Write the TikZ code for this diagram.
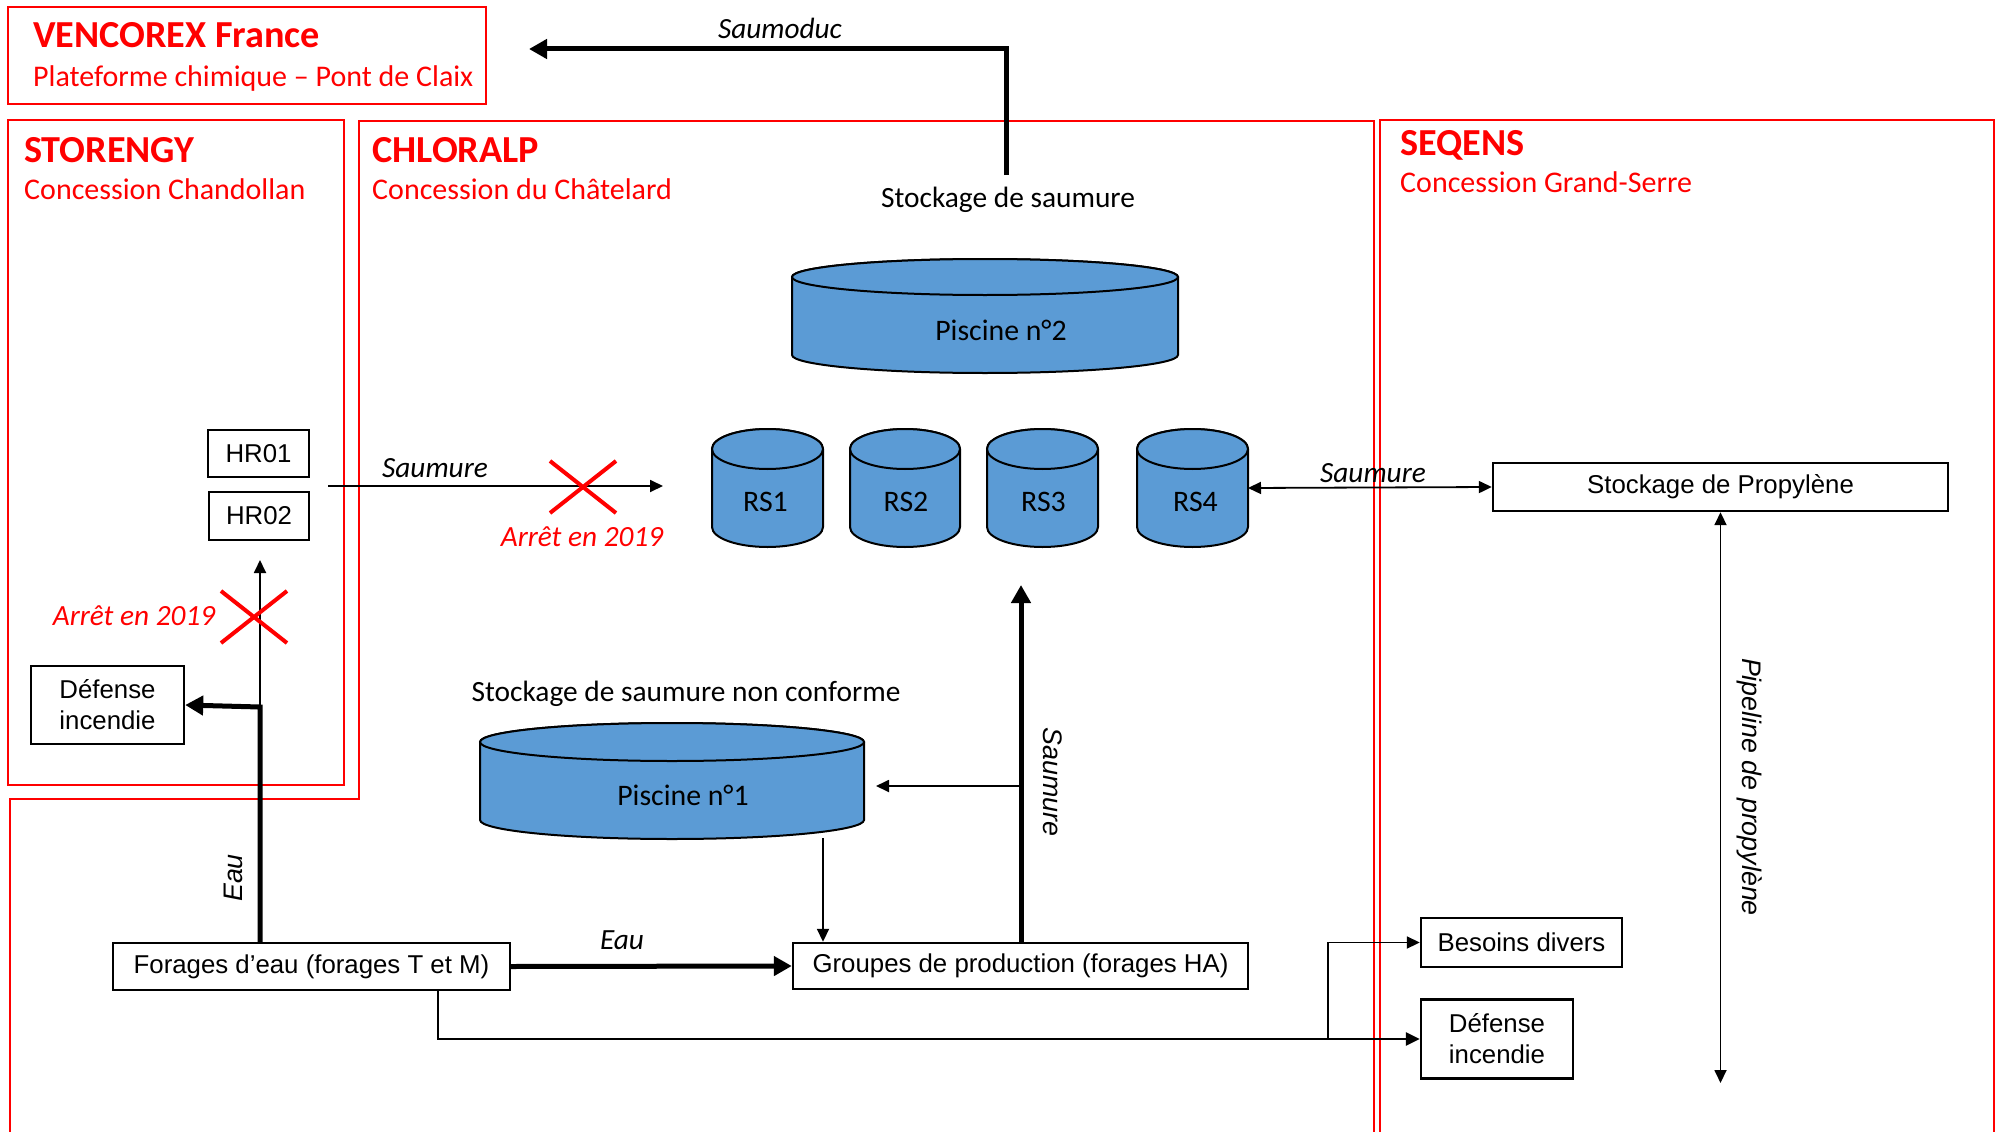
\documentclass[tikz,border=0pt]{standalone}
\usepackage{fontspec}
\setmainfont{Carlito}
\newfontfamily\arialfont{Liberation Sans}
\usetikzlibrary{arrows.meta,shapes.misc}
\definecolor{tankblue}{HTML}{5B9BD5}

\newcommand{\tank}[8]{%
	\filldraw[tank] (#2-#5,#3) -- (#2-#5,#4) arc[start angle=180,end angle=360,x radius=#5pt,y radius=#6pt] -- (#2+#5,#3) arc[start angle=0,end angle=180,x radius=#5pt,y radius=#6pt] -- cycle;
	\filldraw[tank] (#2,#3) ellipse[x radius=#5pt,y radius=#6pt];
	\node[tanklbl] (#1) at (#2+#8,{(#3+#4)/2+14}) {#7};
	\coordinate (#1-e) at (#2+#5,{(#3+#4)/2});
	\coordinate (#1-s) at (#2,#4+#6);
}

\begin{document}
\begin{tikzpicture}[x=1pt,y=-1pt,
		zone/.style={draw=red,line width=2pt},
		box/.style={draw,line width=2.4pt,align=center,inner sep=0pt,font=\arialfont\fontsize{25.8}{31}\selectfont},
		tank/.style={fill=tankblue,draw=black,line width=2pt},
		tanklbl/.style={inner sep=0pt,font=\fontsize{29.8}{34}\selectfont},
		title/.style={anchor=base west,text=red,inner sep=0pt,font=\bfseries\fontsize{38.2}{42}\selectfont},
		subtitle/.style={anchor=base west,text=red,inner sep=0pt,font=\fontsize{30}{34}\selectfont},
		note/.style={inner sep=0pt,font=\fontsize{29.4}{34}\selectfont},
		lbl/.style={inner sep=0pt,font=\itshape\fontsize{29.3}{34}\selectfont},
		redlbl/.style={lbl,text=red},
		vlbl/.style={inner sep=0pt,font=\arialfont\itshape\fontsize{26.8}{31}\selectfont},
		flow/.style={line width=1.8pt,-{Triangle[length=13pt,width=12pt]}},
		flowboth/.style={line width=1.8pt,{Triangle[length=13pt,width=12pt]}-{Triangle[length=13pt,width=12pt]}},
		bigflow/.style={line width=5pt,-{Triangle[length=18pt,width=19pt]}},
		stopped/.style={cross out,draw=red,line width=4pt,minimum width=62pt,minimum height=48pt,inner sep=0pt}]
	\useasboundingbox (0,0) rectangle (1998,1132);
	
	\draw[zone] (8,7) rectangle (486,104);
	\draw[zone] (8,120) rectangle (344,785);
	\draw[zone] (10,1132) -- (10,799) -- (359,799) -- (359,121) -- (1374,121) -- (1374,1132);
	\draw[zone] (1380,1132) -- (1380,120) -- (1994,120) -- (1994,1132);
	
	\node[title] (vencorex) at (33,48) {VENCOREX France};
	\node[subtitle] (vencorexSub) at (33,86) {Plateforme chimique – Pont de Claix};
	\node[title] (storengy) at (24,162) {STORENGY};
	\node[subtitle] (storengySub) at (24,199) {Concession Chandollan};
	\node[title] (chloralp) at (372,162) {CHLORALP};
	\node[subtitle] (chloralpSub) at (372,199) {Concession du Châtelard};
	\node[title] (seqens) at (1400,155) {SEQENS};
	\node[subtitle] (seqensSub) at (1400,192) {Concession Grand-Serre};
	
	\tank{piscineB}{985}{277}{355}{193}{18}{Piscine n°2}{16}
	\tank{rsA}{767.5}{449}{527}{55.5}{20}{RS1}{-2}
	\tank{rsB}{905}{449}{527}{55}{20}{RS2}{1}
	\tank{rsC}{1042.5}{449}{527}{55.5}{20}{RS3}{1}
	\tank{rsD}{1192.5}{449}{527}{55.5}{20}{RS4}{3}
	\tank{piscineA}{672}{742}{820}{192}{19}{Piscine n°1}{11}
	\node[note] (stockSaumure) at (1008,200) {Stockage de saumure};
	\node[note] (stockNonConf) at (686,694) {Stockage de saumure non conforme};
	
	\node[box,minimum width=101pt,minimum height=47pt] (hrA) at (258.5,453.5) {HR01};
	\node[box,minimum width=100pt,minimum height=48pt] (hrB) at (259,516) {HR02};
	\node[box,minimum width=153pt,minimum height=78pt] (defenseA) at (107.5,705) {Défense\\incendie};
	\node[box,minimum width=397pt,minimum height=47pt] (forages) at (311.5,966.5) {Forages d’eau (forages T et M)};
	\node[box,minimum width=455pt,minimum height=46pt] (groupes) at (1020.5,966) {Groupes de production (forages HA)};
	\node[box,minimum width=201pt,minimum height=49pt] (besoins) at (1521.5,942.5) {Besoins divers};
	\node[box,minimum width=152pt,minimum height=79pt] (defenseB) at (1497,1039) {Défense\\incendie};
	\node[box,minimum width=455pt,minimum height=48pt] (propylene) at (1720.5,487) {Stockage de Propylène};
	
	\coordinate (saumoducStart) at (1006,175);
	\coordinate (saumoducEnd) at (529,49);
	\draw[bigflow] (saumoducStart) |- (saumoducEnd);
	\node[lbl] (saumoducLbl) at (780,28) {Saumoduc};
	
	\coordinate (hrOut) at (328,486);
	\coordinate (rsIn) at (663,486);
	\draw[flow] (hrOut) -- (rsIn);
	\node[lbl] (hrLbl) at (435,468) {Saumure};
	\node[stopped] (stopA) at (583,487) {};
	\node[redlbl] (stopAlbl) at (582,537) {Arrêt en 2019};
	
	\coordinate (eauJunc) at (260,707);
	\coordinate (hrIn) at (260,560);
	\draw[bigflow] (forages.north -| eauJunc) -- (eauJunc) -- (defenseA.east);
	\draw[flow] (eauJunc) -- (hrIn);
	\node[vlbl,rotate=90] (eauLblA) at (233,878) {Eau};
	\node[stopped] (stopB) at (254,617) {};
	\node[redlbl] (stopBlbl) at (134,616) {Arrêt en 2019};
	
	\draw[bigflow] (forages.east) -- (groupes.west);
	\node[lbl] (eauLblB) at (622,940) {Eau};
	\coordinate (saumTop) at (1021,585);
	\draw[bigflow] (groupes.north -| saumTop) -- (saumTop);
	\node[vlbl,rotate=-90] (saumLbl) at (1053,782) {Saumure};
	\coordinate (rejet) at (1021,786);
	\coordinate (piscineAin) at (876,786);
	\draw[flow] (rejet) -- (piscineAin);
	\coordinate (piscineAout) at (823,838);
	\draw[flow] (piscineAout) -- (piscineAout |- groupes.north);
	
	\coordinate (forageDiv) at (438,1039);
	\draw[line width=2.5pt,-{Triangle[length=14pt,width=13pt]}] (forages.south -| forageDiv) |- (defenseB.west);
	\coordinate (branch) at (1328,1039);
	\draw[flow] (branch) |- (besoins.west);
	
	\draw[flowboth] (rsD-e) -- (propylene.west);
	\node[lbl] (propLbl) at (1373,473) {Saumure};
	\coordinate (pipeEnd) at (1720.5,1083);
	\draw[flowboth] (propylene.south) -- (pipeEnd);
	\node[vlbl,rotate=-90] (pipeLbl) at (1750,787) {Pipeline de propylène};
	
\end{tikzpicture}
\end{document}
